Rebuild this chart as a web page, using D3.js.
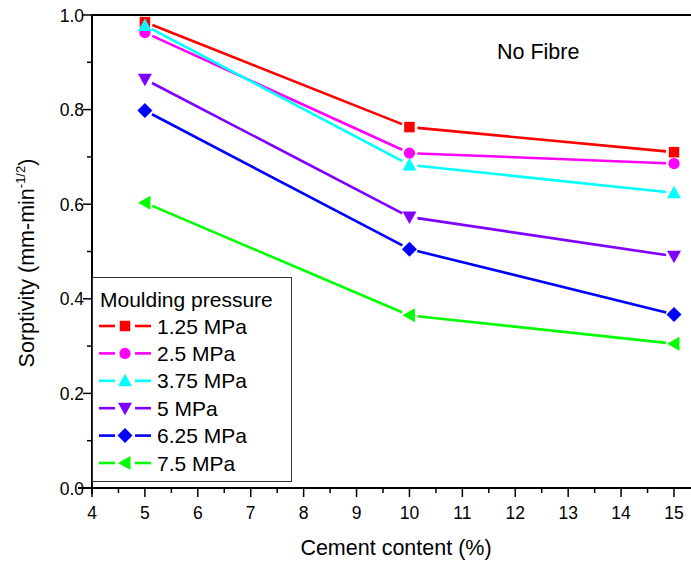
<!DOCTYPE html>
<html>
<head>
<meta charset="utf-8">
<script src="https://cdn.jsdelivr.net/npm/d3@7"></script>
<style>
  html, body { margin: 0; padding: 0; background: #fff; }
  svg { display: block; font-family: "Liberation Sans", Arial, sans-serif; }
</style>
</head>
<body>
<svg id="chart" width="691" height="564"></svg>
<script>
// Cement content (%) on the x axis
const cement = [5, 10, 15];

// Sorptivity (mm·min^-1/2) for each moulding pressure
const p125 = [0.985, 0.763, 0.710];
const p250 = [0.963, 0.708, 0.686];
const p375 = [0.978, 0.683, 0.624];
const p500 = [0.864, 0.573, 0.490];
const p625 = [0.798, 0.505, 0.367];
const p750 = [0.603, 0.365, 0.305];

const seriesNames = ["1.25 MPa", "2.5 MPa", "3.75 MPa", "5 MPa", "6.25 MPa", "7.5 MPa"];
const seriesValues = [p125, p250, p375, p500, p625, p750];
const seriesColors = ["#ff0000", "#ff00ff", "#00ffff", "#8000ff", "#0000ff", "#00ff00"];
const seriesShapes = ["square", "circle", "triUp", "triDown", "diamond", "triLeft"];

const xTicks = [4, 5, 6, 7, 8, 9, 10, 11, 12, 13, 14, 15];
const yTicks = [0.0, 0.2, 0.4, 0.6, 0.8, 1.0];

const svg = d3.select("#chart");
const plotL = 92, plotR = 674, plotT = 15, plotB = 488;

const x = d3.scaleLinear().domain([4, 15]).range([plotL, plotR]);
const y = d3.scaleLinear().domain([0, 1]).range([plotB, plotT]);

// marker drawing
function markerPath(shape) {
  switch (shape) {
    case "square": return d3.symbol(d3.symbolSquare, 110)();
    case "circle": return d3.symbol(d3.symbolCircle, 100)();
    case "diamond": return "M0,-7.5L7.5,0L0,7.5L-7.5,0Z";
    default: return "M0,-7L7,5.5L-7,5.5Z";
  }
}
function markerRotate(shape) {
  if (shape === "triDown") return 180;
  if (shape === "triLeft") return -90;
  return 0;
}

// frame
svg.append("line").attr("x1", plotL).attr("x2", 691).attr("y1", plotT).attr("y2", plotT)
  .attr("stroke", "#000").attr("stroke-width", 2);

// x axis
const xAxis = svg.append("g").attr("transform", `translate(0,${plotB})`);
xAxis.append("line").attr("x1", plotL - 14).attr("x2", 691).attr("stroke", "#000").attr("stroke-width", 2);
const xMinor = d3.range(4.5, 15.01, 1);
xAxis.selectAll(".xmin").data(xMinor).join("line")
  .attr("x1", d => x(d)).attr("x2", d => x(d)).attr("y1", 0).attr("y2", 5)
  .attr("stroke", "#000").attr("stroke-width", 1.5);
xAxis.selectAll(".xmaj").data(xTicks).join("line")
  .attr("x1", d => x(d)).attr("x2", d => x(d)).attr("y1", 0).attr("y2", 9)
  .attr("stroke", "#000").attr("stroke-width", 1.5);
xAxis.selectAll(".xlab").data(xTicks).join("text")
  .attr("x", d => x(d)).attr("y", 31).attr("text-anchor", "middle")
  .attr("font-size", 17.5).text(d => d);

// y axis
const yAxis = svg.append("g").attr("transform", `translate(${plotL},0)`);
yAxis.append("line").attr("y1", plotT).attr("y2", plotB + 6).attr("stroke", "#000").attr("stroke-width", 2);
const yMinor = d3.range(0.1, 1.0, 0.2);
yAxis.selectAll(".ymin").data(yMinor).join("line")
  .attr("y1", d => y(d)).attr("y2", d => y(d)).attr("x1", 0).attr("x2", -5)
  .attr("stroke", "#000").attr("stroke-width", 1.5);
yAxis.selectAll(".ymaj").data(yTicks).join("line")
  .attr("y1", d => y(d)).attr("y2", d => y(d)).attr("x1", 0).attr("x2", -9)
  .attr("stroke", "#000").attr("stroke-width", 1.5);
yAxis.selectAll(".ylab").data(yTicks).join("text")
  .attr("x", -8).attr("y", d => y(d) + 6.5).attr("text-anchor", "end")
  .attr("font-size", 17.5).text(d => d.toFixed(1));

// axis titles
svg.append("text").attr("x", 396).attr("y", 555).attr("text-anchor", "middle")
  .attr("font-size", 21.5).text("Cement content (%)");
const yt = svg.append("text").attr("transform", "translate(34,263) rotate(-90)")
  .attr("text-anchor", "middle").attr("font-size", 21.5);
yt.append("tspan").text("Sorptivity (mm-min");
yt.append("tspan").attr("dy", -9).attr("font-size", 13).text("-1/2");
yt.append("tspan").attr("dy", 9).text(")");

svg.append("text").attr("x", 497).attr("y", 59).attr("font-size", 21.5).text("No Fibre");

// series lines with small gaps around markers
const gap = 8;
seriesValues.forEach((vals, i) => {
  const g = svg.append("g");
  for (let k = 0; k < vals.length - 1; k++) {
    const x1 = x(cement[k]), y1 = y(vals[k]);
    const x2 = x(cement[k + 1]), y2 = y(vals[k + 1]);
    const len = Math.hypot(x2 - x1, y2 - y1);
    const ux = (x2 - x1) / len, uy = (y2 - y1) / len;
    g.append("line")
      .attr("x1", x1 + ux * gap).attr("y1", y1 + uy * gap)
      .attr("x2", x2 - ux * gap).attr("y2", y2 - uy * gap)
      .attr("stroke", seriesColors[i]).attr("stroke-width", 2.6);
  }
});
seriesValues.forEach((vals, i) => {
  svg.append("g").selectAll("path").data(vals).join("path")
    .attr("d", markerPath(seriesShapes[i]))
    .attr("transform", (d, k) => `translate(${x(cement[k])},${y(d)}) rotate(${markerRotate(seriesShapes[i])})`)
    .attr("fill", seriesColors[i]);
});

// legend
const lg = svg.append("g");
lg.append("rect").attr("x", 92.5).attr("y", 277.5).attr("width", 199).attr("height", 204)
  .attr("fill", "#fff").attr("stroke", "#333").attr("stroke-width", 1);
lg.append("text").attr("x", 100).attr("y", 307).attr("font-size", 21).text("Moulding pressure");
seriesNames.forEach((name, i) => {
  const cy = 326 + i * 27.4;
  lg.append("line").attr("x1", 99).attr("x2", 115).attr("y1", cy).attr("y2", cy)
    .attr("stroke", seriesColors[i]).attr("stroke-width", 2.6);
  lg.append("line").attr("x1", 135).attr("x2", 151).attr("y1", cy).attr("y2", cy)
    .attr("stroke", seriesColors[i]).attr("stroke-width", 2.6);
  lg.append("path").attr("d", markerPath(seriesShapes[i]))
    .attr("transform", `translate(125,${cy}) rotate(${markerRotate(seriesShapes[i])})`)
    .attr("fill", seriesColors[i]);
  lg.append("text").attr("x", 157).attr("y", cy + 7.5).attr("font-size", 21).text(name);
});
</script>
</body>
</html>
